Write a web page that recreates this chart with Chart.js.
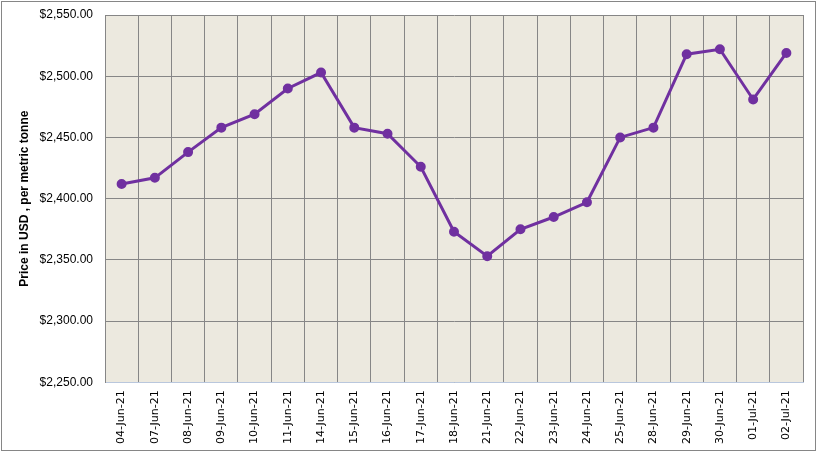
<!DOCTYPE html>
<html>
<head>
<meta charset="utf-8">
<script src="https://cdn.jsdelivr.net/npm/chart.js@4"></script>
<style>
  html, body { margin: 0; padding: 0; background: #ffffff; }
  #wrap { position: absolute; left: 0; top: 0; width: 818px; height: 453px; }
  #frame { position: absolute; left: 1px; top: 1px; width: 815px; height: 450px; border: 1px solid #868686; box-sizing: border-box; pointer-events: none; }
  canvas { display: block; }
</style>
</head>
<body>
<div id="wrap">
  <canvas id="c" width="818" height="453"></canvas>
  <div id="frame"></div>
</div>
<script>
const categories = ["04-Jun-21","07-Jun-21","08-Jun-21","09-Jun-21","10-Jun-21","11-Jun-21","14-Jun-21","15-Jun-21","16-Jun-21","17-Jun-21","18-Jun-21","21-Jun-21","22-Jun-21","23-Jun-21","24-Jun-21","25-Jun-21","28-Jun-21","29-Jun-21","30-Jun-21","01-Jul-21","02-Jul-21"];
const prices = [2412, 2417, 2438, 2458, 2469, 2490, 2503, 2458, 2453, 2426, 2373, 2353, 2375, 2385, 2397, 2450, 2458, 2518, 2522, 2481, 2519];
const yTicks = [2250, 2300, 2350, 2400, 2450, 2500, 2550];
const yTitle = "Price in USD , per metric tonne";

const plotBg = {
  id: 'plotBg',
  beforeDraw(chart) {
    const {ctx, chartArea: a} = chart;
    ctx.save();
    ctx.fillStyle = '#ECE9DF';
    ctx.fillRect(a.left, a.top, a.right - a.left, a.bottom - a.top);
    ctx.restore();
  }
};

new Chart(document.getElementById('c'), {
  type: 'line',
  data: {
    labels: categories,
    datasets: [{
      data: prices,
      borderColor: '#7030A0',
      backgroundColor: '#7030A0',
      borderWidth: 3,
      pointRadius: 3.5,
      pointHoverRadius: 3.5,
      pointBackgroundColor: '#7030A0',
      pointBorderColor: '#7030A0',
      tension: 0,
      clip: false
    }]
  },
  options: {
    responsive: false,
    animation: false,
    events: [],
    layout: { padding: { left: 17, right: 15, top: 15, bottom: 1 } },
    plugins: { legend: { display: false }, tooltip: { enabled: false } },
    scales: {
      x: {
        type: 'category',
        offset: true,
        grid: { offset: true, color: '#868686', lineWidth: 1, drawTicks: false },
        border: { display: true, color: '#B9C7DD', width: 1 },
        afterFit(axis) { axis.paddingLeft = 0; axis.paddingRight = 0; },
        ticks: {
          autoSkip: false,
          minRotation: 90,
          maxRotation: 90,
          padding: 8,
          color: '#000000',
          font: { family: 'DejaVu Sans', size: 11 }
        }
      },
      y: {
        min: yTicks[0],
        max: yTicks[yTicks.length - 1],
        afterBuildTicks(axis) { axis.ticks = yTicks.map(v => ({ value: v })); },
        afterFit(axis) { axis.width = 88; axis.paddingTop = 0; axis.paddingBottom = 0; },
        grid: { color: '#868686', lineWidth: 1, drawTicks: false },
        border: { display: true, color: '#868686' },
        title: {
          display: true,
          text: yTitle,
          color: '#000000',
          font: { family: 'Liberation Sans', size: 12, weight: 'bold' },
          padding: { top: 0, bottom: 0 }
        },
        ticks: {
          padding: 12,
          color: '#000000',
          font: { family: 'Liberation Sans', size: 12 },
          callback: v => '$' + Number(v).toLocaleString('en-US', { minimumFractionDigits: 2, maximumFractionDigits: 2 })
        }
      }
    }
  },
  plugins: [plotBg]
});
</script>
</body>
</html>
